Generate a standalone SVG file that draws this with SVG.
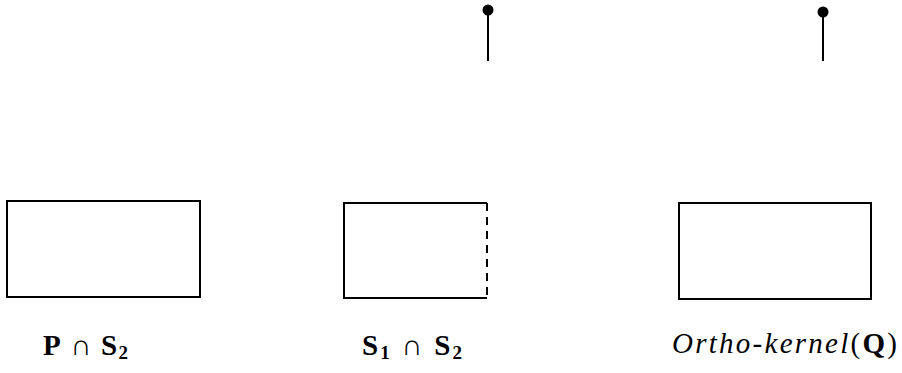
<svg xmlns="http://www.w3.org/2000/svg" width="902" height="373" viewBox="0 0 902 373">
<style>
.box{fill:none;stroke:#000;stroke-width:2}
.ln{stroke:#000;stroke-width:2;fill:none}
.lbl{font-family:"Liberation Serif","DejaVu Serif",serif;font-size:29px;fill:#000}
.b{font-weight:bold}
.i{font-style:italic}
</style>
<rect width="902" height="373" fill="#fff"/>
<g id="node-p-s2">
<rect class="box" x="7" y="201" width="193" height="96"/>
<text class="lbl" x="43" y="355" textLength="85" lengthAdjust="spacing"><tspan class="b">P</tspan> ∩ <tspan class="b">S</tspan><tspan class="b" font-size="19" dy="4">2</tspan></text>
</g>
<g id="node-s1-s2">
<path class="ln" d="M487,203 H344 V298 H487"/>
<path class="ln" d="M487,203 V298" stroke-dasharray="8,6"/>
<text class="lbl" x="362" y="355" textLength="100" lengthAdjust="spacing"><tspan class="b">S</tspan><tspan class="b" font-size="19" dy="4">1</tspan><tspan dy="-4"> ∩ </tspan><tspan class="b">S</tspan><tspan class="b" font-size="19" dy="4">2</tspan></text>
</g>
<g id="node-ortho">
<rect class="box" x="679" y="203" width="192" height="96"/>
<text class="lbl" x="672" y="353" textLength="225" lengthAdjust="spacing"><tspan class="i">Ortho-kernel</tspan>(<tspan class="b">Q</tspan>)</text>
</g>
<g id="connectors">
<line class="ln" x1="488" y1="10" x2="488" y2="61"/>
<circle cx="488" cy="10" r="5.5" fill="#000"/>
<line class="ln" x1="823" y1="12" x2="823" y2="61"/>
<circle cx="823" cy="12" r="5.5" fill="#000"/>
</g>
</svg>
